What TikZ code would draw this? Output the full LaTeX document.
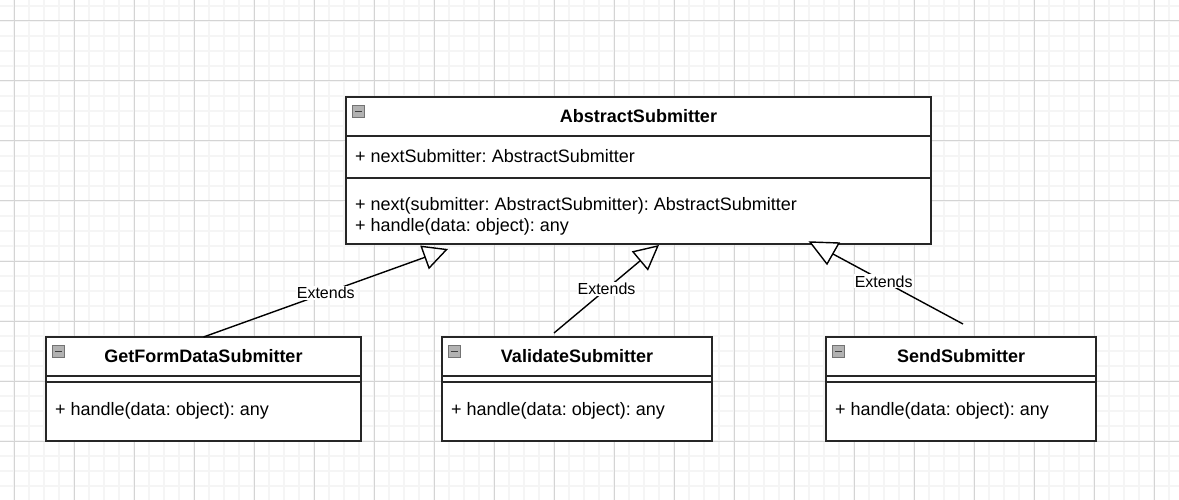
\documentclass[tikz,border=0pt]{standalone}
\usepackage{fontspec}
\setmainfont{Liberation Sans}
\usetikzlibrary{arrows.meta}
\frenchspacing

\begin{document}
\begin{tikzpicture}[
    x=1pt, y=-1pt,
    minor line/.style={draw=black!4, line width=1.6pt},
    major line/.style={draw=black!17, line width=1pt},
    head box/.style={draw=black!85, line width=1.6pt, fill=white, inner sep=0pt, outer sep=0pt,
        minimum height=39pt, anchor=north west, font=\fontsize{18}{22}\selectfont\bfseries},
    member box/.style={draw=black!85, line width=1.6pt, fill=white, inner sep=0pt, outer sep=0pt,
        anchor=north},
    member text/.style={font=\fontsize{18}{22}\selectfont, anchor=base west, inner sep=0pt},
    fold icon/.style={draw=black!55, fill=black!30, line width=0.6pt, minimum size=12pt,
        inner sep=0pt, anchor=north west,
        path picture={\draw[line width=1.4pt, black!75]
            ([xshift=2.5pt]path picture bounding box.west) --
            ([xshift=-2.5pt]path picture bounding box.east);}},
    extends line/.style={draw=black, line width=1.4pt},
    extends tip/.style={-{Triangle[open, length=25pt, width=25pt, line width=1.4pt]}},
    label node/.style={font=\fontsize{16}{18}\selectfont, fill=white, inner sep=1pt}
]

%================BACKGROUND================
\useasboundingbox (0,0) rectangle (1179,500);
\fill[white] (0,0) rectangle (1179,500);
% minor grid every 15px, major every 60px
\foreach \k in {-1,...,78} {
    \draw[minor line] (14+15*\k,0) -- (14+15*\k,500);
}
\foreach \k in {-1,...,33} {
    \draw[minor line] (0,21+15*\k) -- (1179,21+15*\k);
}
\foreach \k in {0,...,19} {
    \draw[major line] (14+60*\k,0) -- (14+60*\k,500);
}
\foreach \k in {0,...,8} {
    \draw[major line] (0,21+60*\k) -- (1179,21+60*\k);
}
%==========================================

% --- 1. Base class ---
\node[head box, minimum width=585pt] (AbsHead) at (346,97) {AbstractSubmitter};
\node[member box, minimum width=585pt, minimum height=42pt] (AbsAttr) at (AbsHead.south) {};
\node[member box, minimum width=585pt, minimum height=66pt] (AbsOps) at (AbsAttr.south) {};
\node[member text] (AbsAttrText) at (355,163) {+ nextSubmitter: AbstractSubmitter};
\node[member text] (AbsOpNext) at (355,210.5) {+ next(submitter: AbstractSubmitter): AbstractSubmitter};
\node[member text] (AbsOpHandle) at (355,232) {+ handle(data: object): any};

% --- 2. Sub classes ---
\foreach \name/\x/\w/\title in {GetForm/46/315/GetFormDataSubmitter,
        Validate/442/270/ValidateSubmitter, Send/826/270/SendSubmitter} {
    \node[head box, minimum width=\w pt] (\name Head) at (\x,337) {\title};
    \node[member box, minimum width=\w pt, minimum height=6pt] (\name Attr) at (\name Head.south) {};
    \node[member box, minimum width=\w pt, minimum height=59pt] (\name Ops) at (\name Attr.south) {};
    \node[member text] (\name Text) at (\x+9,415) {+ handle(data: object): any};
}

% collapse icons in the headers
\foreach \name in {Abs, GetForm, Validate, Send} {
    \node[fold icon] (\name Icon) at ([xshift=6pt, yshift=-8pt]\name Head.north west) {};
}

% --- 3. Inheritance edges ---
\coordinate (TipA) at ([xshift=102pt, yshift=-5pt]AbsOps.south west);
\coordinate (TipB) at ([xshift=313pt, yshift=-1pt]AbsOps.south west);
\coordinate (FromB) at ([xshift=112pt, yshift=4pt]ValidateHead.north west);
\coordinate (FromC) at ([xshift=2pt, yshift=13pt]SendHead.north);
\coordinate (EndC) at ([xshift=487pt, yshift=-10pt]AbsOps.south west);
\coordinate (TriL) at ([xshift=464pt, yshift=2pt]AbsOps.south west);
\coordinate (TriR) at ([xshift=493pt, yshift=1pt]AbsOps.south west);
\coordinate (TriT) at ([xshift=481pt, yshift=-20pt]AbsOps.south west);

\draw[extends line, extends tip] (GetFormHead.north) -- (TipA)
    node[label node, midway] (LabelA) {Extends};
\draw[extends line, extends tip] (FromB) -- (TipB)
    node[label node, midway] (LabelB) {Extends};
\draw[extends line] (FromC) -- (EndC)
    node[label node, pos=0.61] (LabelC) {Extends};
\draw[extends line, fill=white, line join=miter] (TriL) -- (TriR) -- (TriT) -- cycle;

\end{tikzpicture}
\end{document}
